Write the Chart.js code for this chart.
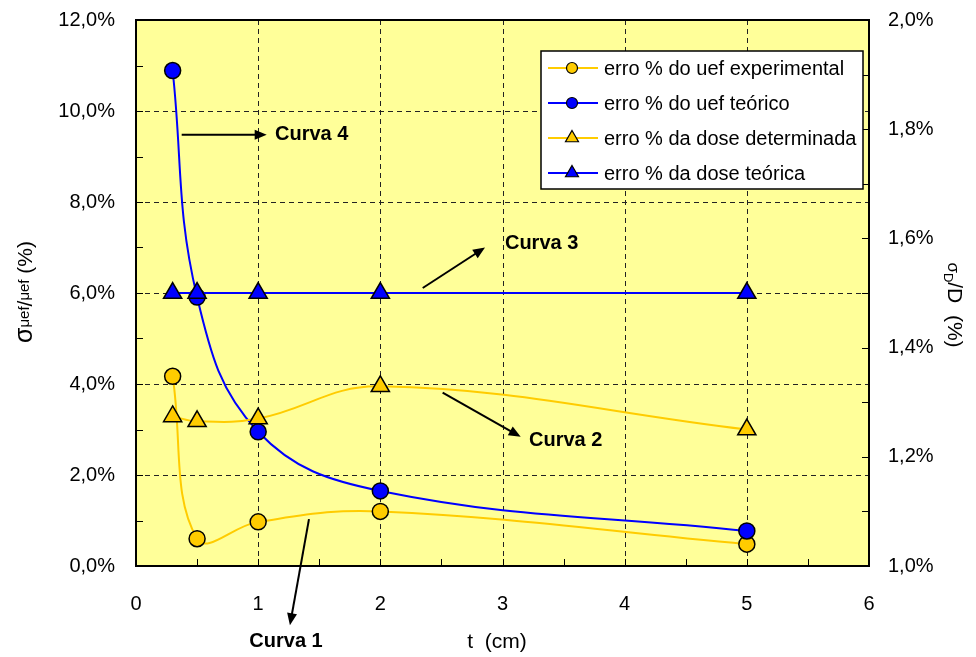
<!DOCTYPE html>
<html>
<head>
<meta charset="utf-8">
<script src="https://cdn.jsdelivr.net/npm/chart.js@4.4.0/dist/chart.umd.min.js"></script>
<style>
  html, body { margin: 0; padding: 0; background: #fff; }
  #wrap { width: 976px; height: 657px; }
</style>
</head>
<body>
<div id="wrap"><canvas id="chart1" width="976" height="657"></canvas></div>
<script>
// valores
const tValues = [0.3, 0.5, 1, 2, 5];
const uefExperimental = [4.17, 0.6, 0.97, 1.2, 0.48];   // eixo esquerdo (%)
const uefTeorico = [10.89, 5.91, 2.95, 1.65, 0.77];     // eixo esquerdo (%)
const doseDeterminada = [1.274, 1.265, 1.27, 1.329, 1.25]; // eixo direito (%)
const doseTeorica = [1.5, 1.5, 1.5, 1.5, 1.5];          // eixo direito (%)
const seriesNames = ['erro % do uef experimental', 'erro % do uef teórico',
                     'erro % da dose determinada', 'erro % da dose teórica'];
const noteLabels = ['Curva 1', 'Curva 2', 'Curva 3', 'Curva 4'];

const YELLOW = '#FFCC00';
const BLUE = '#0000FF';
const FONT = 'Liberation Sans, Arial, sans-serif';

function fmt(v) {
    return v.toFixed(1).replace('.', ',') + '%';
}

function toPoints(ys) {
    return tValues.map((t, i) => ({ x: t, y: ys[i] }));
}

function makeSet(label, ys, color, style, axis, order) {
    return {
        label: label,
        data: toPoints(ys),
        yAxisID: axis,
        order: order,
        borderColor: color,
        backgroundColor: color,
        borderWidth: 2,
        tension: 0.4,
        pointStyle: style,
        pointRadius: style === 'circle' ? 8 : 10.5,
        pointBorderColor: '#000',
        pointBorderWidth: 1.5,
        pointBackgroundColor: color
    };
}

// setas e textos "Curva n" (coordenadas nos eixos x / y esquerdo)
const notes = [
    { text: noteLabels[0], from: [1.416, 1.03], to: [1.26, -1.30], at: [1.228, -1.66], align: 'center' },
    { text: noteLabels[1], from: [2.51, 3.81], to: [3.149, 2.84], at: [3.217, 2.75], align: 'left' },
    { text: noteLabels[2], from: [2.347, 6.11], to: [2.857, 7.0], at: [3.02, 7.08], align: 'left' },
    { text: noteLabels[3], from: [0.374, 9.48], to: [1.07, 9.48], at: [1.138, 9.48], align: 'left' }
];

function arrow(ctx, x0, y0, x1, y1) {
    const ang = Math.atan2(y1 - y0, x1 - x0);
    const len = 12, hw = 5;
    ctx.beginPath();
    ctx.moveTo(x0, y0);
    ctx.lineTo(x1 - Math.cos(ang) * len * 0.8, y1 - Math.sin(ang) * len * 0.8);
    ctx.stroke();
    ctx.beginPath();
    ctx.moveTo(x1, y1);
    ctx.lineTo(x1 - Math.cos(ang) * len - Math.sin(ang) * hw, y1 - Math.sin(ang) * len + Math.cos(ang) * hw);
    ctx.lineTo(x1 - Math.cos(ang) * len + Math.sin(ang) * hw, y1 - Math.sin(ang) * len - Math.cos(ang) * hw);
    ctx.closePath();
    ctx.fill();
}

// desenha texto com partes (tamanho e deslocamento vertical diferentes)
function richText(ctx, parts, cx, cy) {
    let total = 0;
    parts.forEach(p => {
        ctx.font = p.size + 'px ' + FONT;
        p.w = ctx.measureText(p.t).width;
        total += p.w;
    });
    let x = cx - total / 2;
    parts.forEach(p => {
        ctx.font = p.size + 'px ' + FONT;
        ctx.fillText(p.t, x, cy + (p.dy || 0));
        x += p.w;
    });
}

function drawMarker(ctx, style, x, y, r, color) {
    ctx.fillStyle = color;
    ctx.strokeStyle = '#000';
    ctx.lineWidth = 1.2;
    ctx.beginPath();
    if (style === 'circle') {
        ctx.arc(x, y, r, 0, Math.PI * 2);
    } else {
        const s = r * Math.sqrt(3) / 2;
        ctx.moveTo(x, y - r);
        ctx.lineTo(x + s, y + r / 2);
        ctx.lineTo(x - s, y + r / 2);
        ctx.closePath();
    }
    ctx.fill();
    ctx.stroke();
}

const framePlugin = {
    id: 'frame',
    beforeDraw(chart) {
        const { ctx, chartArea: a } = chart;
        ctx.save();
        ctx.fillStyle = '#FFFF99';
        ctx.fillRect(a.left, a.top, a.right - a.left, a.bottom - a.top);
        ctx.restore();
    },
    beforeDatasetsDraw(chart) {
        const { ctx, chartArea: a, scales } = chart;
        ctx.save();
        // grade tracejada
        ctx.strokeStyle = '#222';
        ctx.lineWidth = 1;
        ctx.setLineDash([5, 4]);
        scales.x.ticks.forEach(tk => {
            if (Number.isInteger(tk.value) && tk.value > 0 && tk.value < 6) {
                const px = Math.round(scales.x.getPixelForValue(tk.value)) + 0.5;
                ctx.beginPath(); ctx.moveTo(px, a.top); ctx.lineTo(px, a.bottom); ctx.stroke();
            }
        });
        scales.y.ticks.forEach(tk => {
            if (tk.value % 2 === 0 && tk.value > 0 && tk.value < 12) {
                const py = Math.round(scales.y.getPixelForValue(tk.value)) + 0.5;
                ctx.beginPath(); ctx.moveTo(a.left, py); ctx.lineTo(a.right, py); ctx.stroke();
            }
        });
        ctx.setLineDash([]);
        // marcas para dentro
        ctx.strokeStyle = '#000';
        scales.x.ticks.forEach(tk => {
            const px = Math.round(scales.x.getPixelForValue(tk.value)) + 0.5;
            ctx.beginPath(); ctx.moveTo(px, a.bottom); ctx.lineTo(px, a.bottom - 7); ctx.stroke();
        });
        scales.y.ticks.forEach(tk => {
            const py = Math.round(scales.y.getPixelForValue(tk.value)) + 0.5;
            ctx.beginPath(); ctx.moveTo(a.left, py); ctx.lineTo(a.left + 7, py); ctx.stroke();
        });
        scales.y2.ticks.forEach(tk => {
            const py = Math.round(scales.y2.getPixelForValue(tk.value)) + 0.5;
            ctx.beginPath(); ctx.moveTo(a.right, py); ctx.lineTo(a.right - 7, py); ctx.stroke();
        });
        // moldura
        ctx.lineWidth = 2;
        ctx.strokeRect(a.left, a.top, a.right - a.left, a.bottom - a.top);
        ctx.restore();
    },
    afterDraw(chart) {
        const { ctx, chartArea: a, scales } = chart;
        ctx.save();

        // legenda
        const lx = a.right - 328, ly = a.top + 31, lw = 322, lh = 138;
        ctx.fillStyle = '#fff';
        ctx.fillRect(lx, ly, lw, lh);
        ctx.strokeStyle = '#000';
        ctx.lineWidth = 1.5;
        ctx.strokeRect(lx, ly, lw, lh);
        chart.data.datasets.forEach((ds, i) => {
            const y = ly + 17 + i * 35;
            ctx.strokeStyle = ds.borderColor;
            ctx.lineWidth = 2;
            ctx.beginPath(); ctx.moveTo(lx + 7, y); ctx.lineTo(lx + 57, y); ctx.stroke();
            drawMarker(ctx, ds.pointStyle, lx + 31, y, ds.pointStyle === 'circle' ? 5.5 : 7.5, ds.backgroundColor);
            ctx.fillStyle = '#000';
            ctx.font = '20px ' + FONT;
            ctx.textAlign = 'left';
            ctx.textBaseline = 'middle';
            ctx.fillText(ds.label, lx + 63, y + 1);
        });

        // setas "Curva n"
        ctx.strokeStyle = '#000';
        ctx.fillStyle = '#000';
        ctx.lineWidth = 2;
        notes.forEach(n => {
            const x0 = scales.x.getPixelForValue(n.from[0]), y0 = scales.y.getPixelForValue(n.from[1]);
            const x1 = scales.x.getPixelForValue(n.to[0]), y1 = scales.y.getPixelForValue(n.to[1]);
            arrow(ctx, x0, y0, x1, y1);
            ctx.font = 'bold 20px ' + FONT;
            ctx.textAlign = n.align;
            ctx.textBaseline = 'middle';
            ctx.fillText(n.text, scales.x.getPixelForValue(n.at[0]), scales.y.getPixelForValue(n.at[1]));
        });

        // títulos dos eixos
        ctx.fillStyle = '#000';
        ctx.textBaseline = 'alphabetic';
        ctx.font = '21px ' + FONT;
        ctx.textAlign = 'center';
        ctx.fillText('t  (cm)', 497, 648);

        ctx.textAlign = 'left';
        ctx.save();
        ctx.translate(32, 292);
        ctx.rotate(-Math.PI / 2);
        richText(ctx, [
            { t: 'σ', size: 25 },
            { t: 'μef', size: 15, dy: -3 },
            { t: '/', size: 21 },
            { t: 'μef', size: 15, dy: -3 },
            { t: ' (%)', size: 21 }
        ], 0, 0);
        ctx.restore();

        ctx.save();
        ctx.translate(948, 305);
        ctx.rotate(Math.PI / 2);
        richText(ctx, [
            { t: 'σ', size: 17 },
            { t: 'D', size: 13, dy: 4 },
            { t: '/D  (%)', size: 21 }
        ], 0, 0);
        ctx.restore();

        ctx.restore();
    }
};

const tickFont = { family: FONT, size: 20 };

// tamanhos fixos dos eixos para casar com a área do gráfico
function fixVertical(width) {
    return s => {
        s.width = width;
        s.paddingTop = 0;
        s.paddingBottom = 0;
    };
}

const ctx = document.getElementById('chart1').getContext('2d');
const chart = new Chart(ctx, {
    type: 'line',
    data: {
        datasets: [
            makeSet(seriesNames[0], uefExperimental, YELLOW, 'circle', 'y', 4),
            makeSet(seriesNames[1], uefTeorico, BLUE, 'circle', 'y', 3),
            makeSet(seriesNames[2], doseDeterminada, YELLOW, 'triangle', 'y2', 2),
            makeSet(seriesNames[3], doseTeorica, BLUE, 'triangle', 'y2', 1)
        ]
    },
    options: {
        responsive: false,
        animation: false,
        layout: { padding: { top: 20, left: 0, right: 0, bottom: 0 } },
        plugins: {
            legend: { display: false },
            tooltip: { enabled: false }
        },
        scales: {
            x: {
                type: 'linear',
                min: 0,
                max: 6,
                grid: { display: false, drawTicks: false },
                border: { display: false },
                ticks: {
                    stepSize: 0.5,
                    autoSkip: false,
                    maxRotation: 0,
                    padding: 26,
                    color: '#000',
                    font: tickFont,
                    callback: v => Number.isInteger(v) ? String(v) : ''
                },
                afterFit: s => {
                    s.height = 91;
                    s.paddingLeft = 0;
                    s.paddingRight = 0;
                }
            },
            y: {
                position: 'left',
                min: 0,
                max: 12,
                grid: { display: false, drawTicks: false },
                border: { display: false },
                ticks: {
                    stepSize: 1,
                    autoSkip: false,
                    padding: 21,
                    color: '#000',
                    font: tickFont,
                    callback: v => (Math.round(v) % 2 === 0 ? fmt(v) : '')
                },
                afterFit: fixVertical(136)
            },
            y2: {
                position: 'right',
                min: 1.0,
                max: 2.0,
                grid: { display: false, drawTicks: false },
                border: { display: false },
                ticks: {
                    stepSize: 0.1,
                    autoSkip: false,
                    padding: 19,
                    color: '#000',
                    font: tickFont,
                    callback: v => (Math.round(v * 10) % 2 === 0 ? fmt(v) : '')
                },
                afterFit: fixVertical(107)
            }
        }
    },
    plugins: [framePlugin]
});
</script>
</body>
</html>
